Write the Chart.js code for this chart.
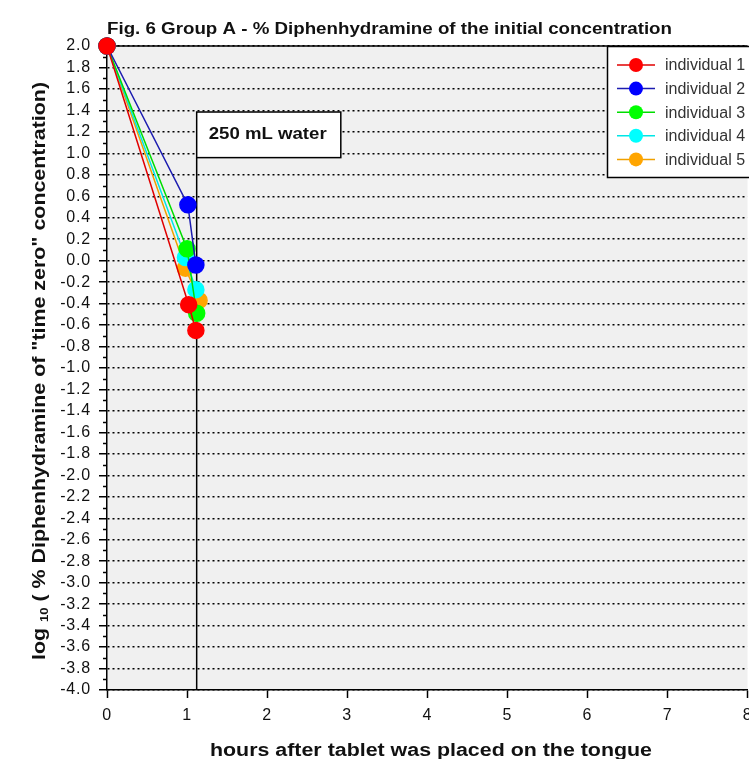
<!DOCTYPE html>
<html>
<head>
<meta charset="utf-8">
<script src="https://cdn.jsdelivr.net/npm/chart.js@4.4.1/dist/chart.umd.min.js"></script>
<style>
    html, body { margin: 0; padding: 0; background: #fff; overflow: hidden; }
    #wrap { width: 760px; height: 759px; }
</style>
</head>
<body>
<div id="wrap"><canvas id="fig6" width="760" height="759"></canvas></div>
<script>
(function () {
    'use strict';

    // values (hours, log10 % of time-zero concentration)
    var seriesNames = ['individual 1', 'individual 2', 'individual 3', 'individual 4', 'individual 5'];
    var pointColors = ['#ff0000', '#0000ff', '#00ff00', '#00ffff', '#ffa500'];
    var lineColors = ['#e00000', '#1c1cb0', '#00dd00', '#00e6e6', '#f0a000'];

    var hoursInd1 = [0, 1.02, 1.11];
    var logInd1 = [2.0, -0.41, -0.65];
    var hoursInd2 = [0, 1.01, 1.11];
    var logInd2 = [2.0, 0.52, -0.04];
    var hoursInd3 = [0, 1.0, 1.12];
    var logInd3 = [2.0, 0.11, -0.49];
    var hoursInd4 = [0, 0.98, 1.11];
    var logInd4 = [2.0, 0.03, -0.27];
    var hoursInd5 = [0, 0.98, 1.15];
    var logInd5 = [2.0, -0.07, -0.37];

    var hoursSeries = [hoursInd1, hoursInd2, hoursInd3, hoursInd4, hoursInd5];
    var logSeries = [logInd1, logInd2, logInd3, logInd4, logInd5];

    var xTickMin = 0, xTickMax = 8, xTickStep = 1;
    var yTickMin = -4, yTickMax = 2, yTickStep = 0.2;

    var waterHours = 1.12;
    var waterLabel = '250 mL water';

    var titleText = 'Fig. 6 Group A - % Diphenhydramine of the initial concentration';
    var xTitleText = 'hours after tablet was placed on the tongue';

    var FONT = '"Liberation Sans", Arial, sans-serif';

    function fitText(ctx, text, x, y, width, font, color) {
        ctx.save();
        ctx.font = font;
        ctx.fillStyle = color;
        ctx.textAlign = 'left';
        ctx.textBaseline = 'alphabetic';
        var w = ctx.measureText(text).width;
        ctx.translate(x, y);
        ctx.scale(width / w, 1);
        ctx.fillText(text, 0, 0);
        ctx.restore();
    }

    var figurePlugin = {
        id: 'figurePlugin',
        beforeDraw: function (chart) {
            var a = chart.chartArea, ctx = chart.ctx;
            ctx.save();
            ctx.fillStyle = '#f0f0f0';
            ctx.fillRect(a.left, a.top, a.right - a.left, a.bottom - a.top);
            ctx.restore();
            ctx.letterSpacing = '0.8px';
        },
        beforeDatasetsDraw: function (chart) {
            var a = chart.chartArea, ctx = chart.ctx;
            var xs = chart.scales.x, ys = chart.scales.y;
            ctx.letterSpacing = '0px';
            ctx.save();
            ctx.strokeStyle = '#000';
            ctx.lineWidth = 1.5;

            // minor ticks on the y axis
            ctx.beginPath();
            for (var v = yTickMin + yTickStep / 2; v < yTickMax; v += yTickStep) {
                var py = Math.round(ys.getPixelForValue(v)) + 0.5;
                ctx.moveTo(a.left - 4, py);
                ctx.lineTo(a.left, py);
            }
            ctx.stroke();

            // top frame
            ctx.beginPath();
            ctx.moveTo(a.left, a.top);
            ctx.lineTo(a.right, a.top);
            ctx.stroke();

            // water marker line and label box
            var wx = xs.getPixelForValue(waterHours);
            var boxTop = ys.getPixelForValue(1.385);
            var boxBottom = ys.getPixelForValue(0.96);
            var boxRight = xs.getPixelForValue(2.92);
            ctx.beginPath();
            ctx.moveTo(wx, a.bottom);
            ctx.lineTo(wx, boxBottom);
            ctx.stroke();
            ctx.fillStyle = '#fff';
            ctx.fillRect(wx, boxTop, boxRight - wx, boxBottom - boxTop);
            ctx.strokeRect(wx, boxTop, boxRight - wx, boxBottom - boxTop);
            ctx.restore();
            fitText(ctx, waterLabel, wx + 12, boxTop + 27, 118, 'bold 16px ' + FONT, '#111');
        },
        afterDraw: function (chart) {
            var ctx = chart.ctx;

            // legend box
            ctx.save();
            ctx.fillStyle = '#fff';
            ctx.strokeStyle = '#000';
            ctx.lineWidth = 1.5;
            ctx.fillRect(607.5, 46.5, 200, 131);
            ctx.strokeRect(607.5, 46.5, 200, 131);
            chart.data.datasets.forEach(function (ds, i) {
                var ly = 65 + i * 23.6;
                ctx.strokeStyle = ds.borderColor;
                ctx.lineWidth = 1.5;
                ctx.beginPath();
                ctx.moveTo(617, ly);
                ctx.lineTo(655, ly);
                ctx.stroke();
                ctx.fillStyle = ds.pointBackgroundColor;
                ctx.beginPath();
                ctx.arc(636, ly, 7, 0, Math.PI * 2);
                ctx.fill();
                ctx.fillStyle = '#333';
                ctx.font = '16px ' + FONT;
                ctx.textBaseline = 'middle';
                ctx.fillText(ds.label, 665, ly + 1);
            });
            ctx.restore();

            // titles
            fitText(ctx, titleText, 107, 34, 565, 'bold 16px ' + FONT, '#111');
            fitText(ctx, xTitleText, 210, 756, 442, 'bold 18px ' + FONT, '#111');

            // rotated y title with subscript 10
            ctx.save();
            ctx.translate(45, 660);
            ctx.rotate(-Math.PI / 2);
            var big = 'bold 18px ' + FONT, small = 'bold 11px ' + FONT;
            var p1 = 'log ', p2 = '10', p3 = ' ( % Diphenhydramine of "time zero" concentration)';
            ctx.font = big;
            var w1 = ctx.measureText(p1).width, w3 = ctx.measureText(p3).width;
            ctx.font = small;
            var w2 = ctx.measureText(p2).width;
            ctx.scale(578 / (w1 + w2 + w3), 1);
            ctx.fillStyle = '#111';
            ctx.textBaseline = 'alphabetic';
            ctx.font = big;
            ctx.fillText(p1, 0, 0);
            ctx.font = small;
            ctx.fillText(p2, w1, 3);
            ctx.font = big;
            ctx.fillText(p3, w1 + w2, 0);
            ctx.restore();
        }
    };

    var datasets = seriesNames.map(function (name, i) {
        return {
            label: name,
            data: hoursSeries[i].map(function (h, j) { return { x: h, y: logSeries[i][j] }; }),
            showLine: true,
            clip: false,
            borderColor: lineColors[i],
            backgroundColor: pointColors[i],
            pointBackgroundColor: pointColors[i],
            pointBorderColor: pointColors[i],
            borderWidth: 1.5,
            pointRadius: 8,
            pointHoverRadius: 8,
            tension: 0
        };
    });

    new Chart(document.getElementById('fig6'), {
        type: 'scatter',
        data: { datasets: datasets },
        options: {
            responsive: false,
            animation: false,
            devicePixelRatio: 1,
            events: [],
            layout: { autoPadding: false, padding: { top: 46, right: 9, left: 0, bottom: 0 } },
            plugins: {
                legend: { display: false },
                title: { display: false },
                tooltip: { enabled: false }
            },
            scales: {
                x: {
                    type: 'linear',
                    min: xTickMin,
                    max: xTickMax,
                    ticks: {
                        stepSize: xTickStep,
                        padding: 8,
                        maxRotation: 0,
                        autoSkip: false,
                        color: '#111',
                        font: { family: FONT, size: 16 }
                    },
                    grid: { drawOnChartArea: false, drawTicks: true, tickLength: 8, tickColor: '#000', tickWidth: 1.5 },
                    border: { color: '#000', width: 1.5 },
                    afterFit: function (s) { s.height = 69; }
                },
                y: {
                    type: 'linear',
                    min: yTickMin,
                    max: yTickMax,
                    ticks: {
                        stepSize: yTickStep,
                        padding: 8,
                        autoSkip: false,
                        color: '#111',
                        font: { family: FONT, size: 16 },
                        callback: function (v) {
                            var r = Math.round(v * 10) / 10;
                            return (r === 0 ? 0 : r).toFixed(1);
                        }
                    },
                    grid: { color: '#000', lineWidth: 1.5, tickLength: 8, tickColor: '#000', tickWidth: 1.5 },
                    border: { color: '#000', width: 1.5, dash: [2, 3] },
                    afterFit: function (s) { s.width = 107; }
                }
            }
        },
        plugins: [figurePlugin]
    });
}());
</script>
</body>
</html>
